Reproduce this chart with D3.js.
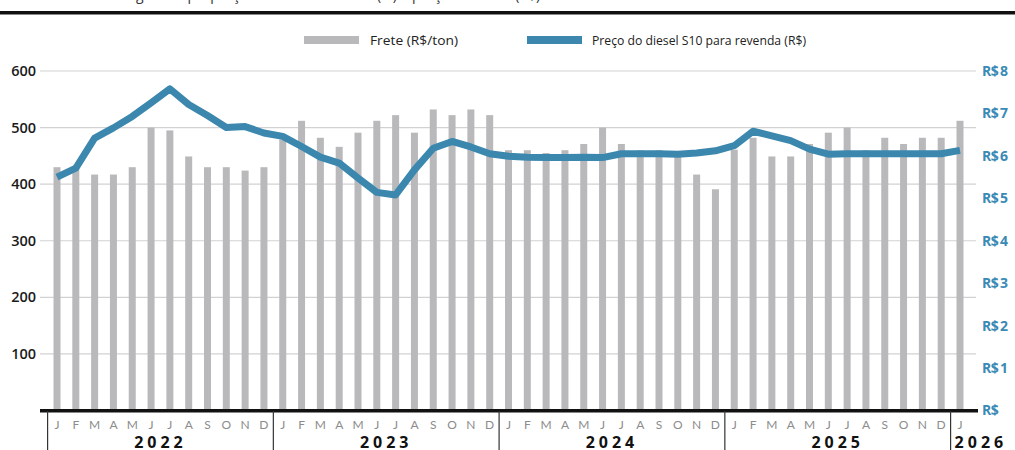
<!DOCTYPE html>
<html lang="pt-BR">
<head>
<meta charset="utf-8">
<script src="https://cdn.jsdelivr.net/npm/d3@7"></script>
<style>
  html, body { margin: 0; padding: 0; background: #fff; }
  svg { display: block; font-family: "Open Sans", "DejaVu Sans", sans-serif; }
</style>
</head>
<body>
<svg id="chart" width="1015" height="450"></svg>
<script>
// Meses de jan/2022 a jan/2026
const monthLetters = ["J","F","M","A","M","J","J","A","S","O","N","D"];
const years = ["2022", "2023", "2024", "2025", "2026"];

// Frete (R$/ton), mensal
const frete = [
  430, 428, 417, 417, 430, 500, 495, 449, 430, 430, 424, 430,   // 2022
  479, 512, 482, 466, 491, 512, 522, 491, 532, 522, 532, 522,   // 2023
  460, 460, 455, 460, 471, 500, 471, 460, 460, 458, 417, 391,   // 2024
  461, 482, 449, 449, 471, 491, 500, 460, 482, 471, 482, 482,   // 2025
  512                                                            // 2026
];

// Preço do diesel S10 para revenda (R$/litro)
const diesel = [
  5.50, 5.71, 6.42, 6.66, 6.93, 7.25, 7.58, 7.21, 6.95, 6.67, 6.69, 6.54,
  6.46, 6.22, 5.97, 5.83, 5.48, 5.14, 5.08, 5.67, 6.18, 6.34, 6.21, 6.05,
  5.99, 5.97, 5.96, 5.96, 5.97, 5.96, 6.05, 6.05, 6.05, 6.04, 6.07, 6.12,
  6.24, 6.58, 6.47, 6.36, 6.16, 6.04, 6.05, 6.05, 6.05, 6.05, 6.05, 6.05,
  6.13
];

const leftTicks = [100, 200, 300, 400, 500, 600];
const rightTicks = [0, 1, 2, 3, 4, 5, 6, 7, 8];

const svg = d3.select("#chart");
const W = 1015, H = 450;
const plot = { left: 40, right: 976, top: 71, bottom: 410.5 };

const n = frete.length;
const x = d3.scalePoint().domain(d3.range(n)).range([57, 960]);
const step = x.step();
const yL = d3.scaleLinear().domain([0, 600]).range([plot.bottom, plot.top]);
const yR = d3.scaleLinear().domain([0, 8]).range([plot.bottom, plot.top]);

const blue = "#3b87ae";
const barGray = "#b9b9bc";

// Título (cortado no topo) e filete preto
svg.append("text")
  .attr("x", 8).attr("y", -0.5)
  .attr("font-size", 14).attr("fill", "#333")
  .text("Frete rodoviário de grãos e proporção do diesel no frete (%) e preço do diesel (R$)");
svg.append("rect")
  .attr("x", 0).attr("y", 11).attr("width", W).attr("height", 3.5)
  .attr("fill", "#111");

// Legenda
const legend = svg.append("g").attr("font-size", 12.5).attr("fill", "#222");
legend.append("rect").attr("x", 304).attr("y", 36).attr("width", 55).attr("height", 8).attr("fill", barGray);
legend.append("text").attr("x", 370).attr("y", 44.5)
  .attr("textLength", 88).attr("lengthAdjust", "spacingAndGlyphs")
  .text("Frete (R$/ton)");
legend.append("rect").attr("x", 527).attr("y", 36).attr("width", 55).attr("height", 8).attr("fill", blue);
legend.append("text").attr("x", 592).attr("y", 44.5)
  .attr("textLength", 214).attr("lengthAdjust", "spacingAndGlyphs")
  .text("Preço do diesel S10 para revenda (R$)");

// Linhas de grade
svg.append("g")
  .selectAll("line")
  .data(leftTicks)
  .join("line")
  .attr("x1", plot.left).attr("x2", plot.right)
  .attr("y1", d => yL(d)).attr("y2", d => yL(d))
  .attr("stroke", "#d2d2d2").attr("stroke-width", 1.2);

// Eixo esquerdo (frete)
const axL = svg.append("g")
  .attr("transform", `translate(36,0)`)
  .call(d3.axisLeft(yL).tickValues(leftTicks).tickSize(0).tickPadding(0));
axL.select(".domain").remove();
axL.selectAll("text")
  .attr("font-size", 14.5).attr("font-weight", 600).attr("fill", "#1a1a1a")
  .attr("font-family", "'Open Sans', sans-serif");

// Eixo direito (diesel)
const axR = svg.append("g")
  .attr("transform", `translate(982,0)`)
  .call(d3.axisRight(yR).tickValues(rightTicks).tickSize(0).tickPadding(0)
    .tickFormat(d => d === 0 ? "R$" : "R$\u2009" + d));
axR.select(".domain").remove();
axR.selectAll("text")
  .attr("font-size", 14).attr("font-weight", 700).attr("fill", "#3a8ab5")
  .attr("font-family", "'Open Sans', sans-serif")
  .attr("letter-spacing", -0.5);

// Barras de frete
svg.append("g")
  .selectAll("rect")
  .data(frete)
  .join("rect")
  .attr("x", (d, i) => x(i) - 3.5)
  .attr("width", 7)
  .attr("y", d => yL(d))
  .attr("height", d => yL(0) - yL(d))
  .attr("fill", barGray);

// Linha do diesel
const line = d3.line()
  .x((d, i) => x(i))
  .y(d => yR(d));
svg.append("path")
  .datum(diesel)
  .attr("d", line)
  .attr("fill", "none")
  .attr("stroke", blue)
  .attr("stroke-width", 7)
  .attr("stroke-linejoin", "round")
  .attr("stroke-linecap", "butt");

// Linha de base
svg.append("rect")
  .attr("x", plot.left).attr("y", 409)
  .attr("width", 978 - plot.left).attr("height", 3.5)
  .attr("fill", "#111");

// Letras dos meses
svg.append("g")
  .selectAll("text")
  .data(d3.range(n))
  .join("text")
  .attr("x", i => x(i))
  .attr("y", 429)
  .attr("text-anchor", "middle")
  .attr("font-size", 12)
  .attr("font-family", "Lato, 'Open Sans', sans-serif")
  .attr("fill", "#8c8c8c")
  .text(i => monthLetters[i % 12]);

// Separadores de ano
const sepIdx = [0, 12, 24, 36, 48];
svg.append("g")
  .selectAll("line")
  .data(sepIdx)
  .join("line")
  .attr("x1", i => x(i) - step / 2).attr("x2", i => x(i) - step / 2)
  .attr("y1", 411).attr("y2", H)
  .attr("stroke", "#333").attr("stroke-width", 1.2);

// Rótulos dos anos
svg.append("g")
  .selectAll("text")
  .data(years)
  .join("text")
  .attr("x", (d, k) => k < 4 ? (x(k * 12) + x(k * 12 + 11)) / 2 : x(48) - step / 2 + 4)
  .attr("y", 448)
  .attr("text-anchor", (d, k) => k < 4 ? "middle" : "start")
  .attr("font-size", 16)
  .attr("font-weight", 700)
  .attr("letter-spacing", 4)
  .attr("fill", "#111")
  .text(d => d);
</script>
</body>
</html>
